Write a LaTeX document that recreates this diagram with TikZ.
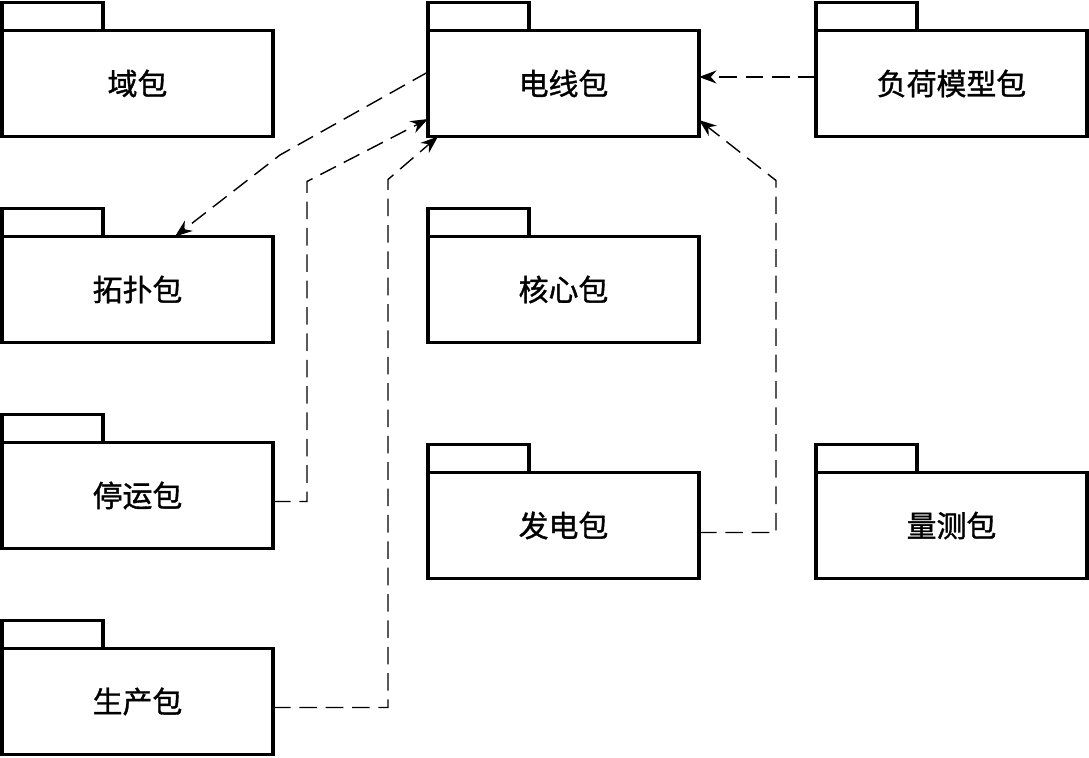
\documentclass[tikz,border=0pt]{standalone}
\usepackage{fontspec}
\setmainfont{Noto Sans CJK SC}[FakeBold=1.2]
\usetikzlibrary{arrows.meta,positioning}

\begin{document}
\begin{tikzpicture}[node distance=2cm and 3.1cm,
    pkg/.style={draw, rectangle, line width=1.8pt, outer sep=0pt, minimum width=5.42cm, minimum height=2.12cm, font=\fontsize{17}{20}\selectfont},
    tab/.style={draw, rectangle, line width=1.8pt, outer sep=0pt, anchor=south west, minimum width=2.02cm, minimum height=0.56cm, inner sep=0pt},
    dep/.style={-{Stealth[length=3.5mm, width=2.6mm]}, line width=0.8pt, dash pattern=on 10pt off 5pt}]

    \useasboundingbox (0,0) rectangle (21.78,15.16);

    \node[pkg] (yu) at (2.75,13.49) {域包};
    \node[pkg, below=of yu] (tuopu) {拓扑包};
    \node[pkg, below=of tuopu] (tingyun) {停运包};
    \node[pkg, below=of tingyun] (shengchan) {生产包};

    \node[pkg, right=of yu] (dianxian) {电线包};
    \node[pkg, below=of dianxian] (hexin) {核心包};
    \node[pkg, below=2.6cm of hexin] (fadian) {发电包};

    \node[pkg, right=2.34cm of dianxian] (fuhe) {负荷模型包};
    \node[pkg, right=2.34cm of fadian] (liangce) {量测包};

    % tabs on top of the packages
    \node[tab] (yu-tab) at (yu.north west) {};
    \node[tab] (tuopu-tab) at (tuopu.north west) {};
    \node[tab] (tingyun-tab) at (tingyun.north west) {};
    \node[tab] (shengchan-tab) at (shengchan.north west) {};
    \node[tab] (dianxian-tab) at (dianxian.north west) {};
    \node[tab] (hexin-tab) at (hexin.north west) {};
    \node[tab] (fadian-tab) at (fadian.north west) {};
    \node[tab] (fuhe-tab) at (fuhe.north west) {};
    \node[tab] (liangce-tab) at (liangce.north west) {};

    % dependencies
    \draw[dep] ([yshift=0.23cm]dianxian.west) -- ++(-2.96,-1.66) -- ([xshift=0.75cm]tuopu.north);
    \draw[dep] ([yshift=-0.12cm]tingyun.east) -- ++(0.68,0) -- ++(0,6.4) -- ([yshift=-0.71cm]dianxian.west);
    \draw[dep] ([yshift=-0.12cm]shengchan.east) -- ++(2.3,0) -- ++(0,10.56) -- ([xshift=0.2cm]dianxian.south west);
    \draw[dep] ([yshift=0.13cm]fuhe.west) -- ([yshift=0.13cm]dianxian.east);
    \draw[dep] ([yshift=-0.14cm]fadian.east) -- ++(1.54,0) -- ++(0,7.04) -- ([yshift=-0.73cm]dianxian.east);
\end{tikzpicture}
\end{document}
